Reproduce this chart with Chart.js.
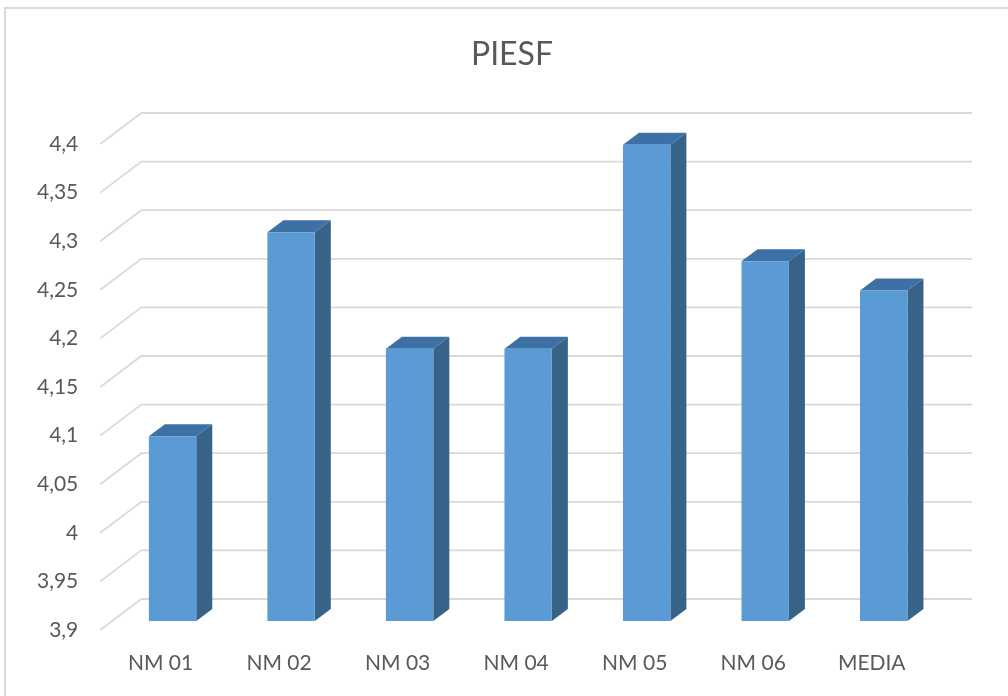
<!DOCTYPE html>
<html>
<head>
<meta charset="utf-8">
<title>PIESF</title>
<script src="https://cdn.jsdelivr.net/npm/chart.js@4/dist/chart.umd.min.js"></script>
<style>
  html, body { margin: 0; padding: 0; background: #fff; }
  canvas { display: block; }
</style>
</head>
<body>
<canvas id="chart" width="1008" height="696"></canvas>
<script>
// ==================== DATA ====================
const categories = ["NM 01", "NM 02", "NM 03", "NM 04", "NM 05", "NM 06", "MEDIA"];
const values = [4.09, 4.30, 4.18, 4.18, 4.39, 4.27, 4.24];
const yTickLabels = ["3,9", "3,95", "4", "4,05", "4,1", "4,15", "4,2", "4,25", "4,3", "4,35", "4,4"];
const yMin = 3.9, yMax = 4.4, yStep = 0.05;

// ==================== 3D LOOK ====================
const DEPTH_X = 16, DEPTH_Y = 12;   // side/top of each bar
const GRID = "#d9d9d9";

const fake3d = {
  id: "fake3d",
  beforeDraw(chart) {
    // outer frame, only left and top show in the picture
    const c = chart.ctx;
    c.save();
    c.strokeStyle = GRID;
    c.lineWidth = 2;
    c.beginPath();
    c.moveTo(5, 696);
    c.lineTo(5, 8);
    c.lineTo(1008, 8);
    c.stroke();
    c.restore();
  },
  beforeDatasetsDraw(chart) {
    const c = chart.ctx, y = chart.scales.y, area = chart.chartArea;
    c.save();
    c.strokeStyle = GRID;
    c.lineWidth = 1.8;
    y.ticks.forEach(t => {
      const py = y.getPixelForValue(t.value);
      c.beginPath();
      c.moveTo(area.left - 13, py + 9);
      c.lineTo(area.left + 28, py - 22);
      c.lineTo(area.right + 29, py - 22);
      c.stroke();
    });
    // top and side faces
    chart.getDatasetMeta(0).data.forEach(bar => {
      const l = bar.x - bar.width / 2, r = bar.x + bar.width / 2;
      c.fillStyle = "#3d71a5";
      c.beginPath();
      c.moveTo(l, bar.y);
      c.lineTo(l + DEPTH_X, bar.y - DEPTH_Y);
      c.lineTo(r + DEPTH_X, bar.y - DEPTH_Y);
      c.lineTo(r, bar.y);
      c.closePath();
      c.fill();
      c.fillStyle = "#386389";
      c.beginPath();
      c.moveTo(r, bar.y);
      c.lineTo(r + DEPTH_X, bar.y - DEPTH_Y);
      c.lineTo(r + DEPTH_X, bar.base - DEPTH_Y);
      c.lineTo(r, bar.base);
      c.closePath();
      c.fill();
    });
    c.restore();
  }
};

// ==================== CHART ====================
new Chart(document.getElementById("chart"), {
  type: "bar",
  data: {
    labels: categories,
    datasets: [{
      data: values,
      base: yMin,
      backgroundColor: "#5b9bd5",
      borderWidth: 0,
      barPercentage: 0.8,
      categoryPercentage: 0.5
    }]
  },
  options: {
    responsive: false,
    animation: false,
    layout: { padding: { left: 30, right: 14, top: 0, bottom: 0 } },
    plugins: {
      legend: { display: false },
      tooltip: { enabled: false },
      title: {
        display: true,
        text: "PIESF",
        color: "#595959",
        font: { family: "Lato", size: 32, weight: "normal", lineHeight: 1.2 },
        padding: { top: 35.3, bottom: 61.3 }
      }
    },
    scales: {
      x: {
        grid: { display: false },
        border: { display: false },
        ticks: {
          color: "#595959",
          font: { family: "Lato", size: 21 },
          padding: 22,
          labelOffset: -12,
          maxRotation: 0,
          autoSkip: false
        },
        afterFit(s) { s.height = 75; }
      },
      y: {
        min: yMin,
        max: yMax,
        grid: { display: false },
        border: { display: false },
        ticks: {
          stepSize: yStep,
          color: "#595959",
          font: { family: "Lato", size: 21 },
          padding: 27,
          labelOffset: 9,
          callback: (v, i) => yTickLabels[i]
        },
        afterFit(s) { s.width = 83.3; }
      },
      // empty axis, only keeps the plot's right edge where the picture has it
      spacer: {
        position: "right",
        grid: { display: false },
        border: { display: false },
        ticks: { display: false },
        afterFit(s) { s.width = 51; }
      }
    }
  },
  plugins: [fake3d]
});
</script>
</body>
</html>
